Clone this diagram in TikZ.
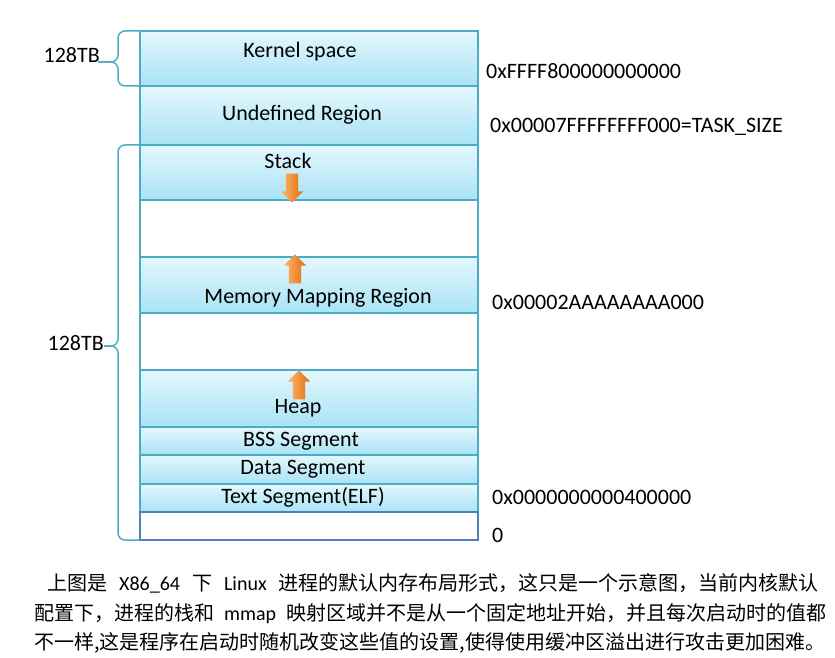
\documentclass[tikz,border=0pt]{standalone}
\usepackage{fontspec}
\setmainfont{Carlito}
\newfontfamily\cjk{Noto Sans CJK SC}
\usetikzlibrary{positioning, shapes.arrows}
\definecolor{segline}{HTML}{4BACC6}
\definecolor{segtop}{HTML}{E4F7FD}
\definecolor{segbot}{HTML}{A8E3F5}
\definecolor{zeroline}{HTML}{4F81BD}
\definecolor{arrlight}{HTML}{FBB76E}
\definecolor{arrdark}{HTML}{E46C0A}
\newcommand{\zh}[1]{{\cjk #1}}

\begin{document}
\begin{tikzpicture}[x=1pt, y=-1pt,
  seg/.style={draw=segline, line width=1.2pt, top color=segtop, bottom color=segbot,
    minimum width=338pt, inner sep=0pt, outer sep=0pt},
  gap/.style={draw=segline, line width=1.2pt, fill=white,
    minimum width=338pt, inner sep=0pt, outer sep=0pt},
  segtext/.style={font=\fontsize{22}{22}\selectfont},
  addr/.style={font=\fontsize{22}{22}\selectfont, anchor=west, inner sep=0pt},
  brace/.style={draw=segline, line width=1.5pt, rounded corners=7pt},
  growarrow/.style={single arrow, draw=none, left color=arrlight, right color=arrdark,
    minimum height=29pt, inner sep=6pt, single arrow head extend=5pt},
  para/.style={font=\fontsize{20}{20}\selectfont, anchor=west, inner sep=0pt}]
  \useasboundingbox (0,0) rectangle (835,658);

  % memory segments, from the top down
  \node[seg, minimum height=55pt, anchor=north west] (kernel) at (140,31) {};
  \node[seg, minimum height=59pt, below=0pt of kernel] (undef) {};
  \node[seg, minimum height=55pt, below=0pt of undef] (stack) {};
  \node[gap, minimum height=57pt, below=0pt of stack] (gapa) {};
  \node[seg, minimum height=56pt, below=0pt of gapa] (mmap) {};
  \node[gap, minimum height=57pt, below=0pt of mmap] (gapb) {};
  \node[seg, minimum height=57pt, below=0pt of gapb] (heap) {};
  \node[seg, minimum height=28pt, below=0pt of heap] (bss) {};
  \node[seg, minimum height=29pt, below=0pt of bss] (data) {};
  \node[seg, minimum height=28pt, below=0pt of data] (text) {};
  \node[gap, draw=zeroline, minimum height=28pt, below=0pt of text] (zero) {};

  % segment names
  \node[segtext] (kerneltext) at (300,52) {Kernel space};
  \node[segtext] (undeftext) at (302,115) {Undefined Region};
  \node[segtext] (stacktext) at (288,161) {Stack};
  \node[segtext] (mmaptext) at (318,298) {Memory Mapping Region};
  \node[segtext] (heaptext) at (298,408) {Heap};
  \node[segtext] (bsstext) at (301,441) {BSS Segment};
  \node[segtext] (datatext) at (303,469) {Data Segment};
  \node[segtext] (texttext) at (303,497) {Text Segment(ELF)};

  % growth directions
  \node[growarrow, shape border rotate=270] (stackgrow) at (292,185) {};
  \node[growarrow, shape border rotate=90] (mmapgrow) at (295,272) {};
  \node[growarrow, shape border rotate=90] (heapgrow) at (299,388) {};

  % sizes
  \draw[brace] (kernel.north west) -| (118,62) -- (98,62);
  \draw[brace] (kernel.south west) -| (118,62) -- (98,62);
  \node[segtext, anchor=east, inner sep=0pt] (kernelsize) at (100,55) {128TB};
  \draw[brace] (stack.north west) -| (118,346) -- (104,346);
  \draw[brace] (zero.south west) -| (118,346) -- (104,346);
  \node[segtext, anchor=east, inner sep=0pt] (usersize) at (104,343) {128TB};

  % addresses
  \node[addr] (kerneladdr) at (486,71) {0xFFFF800000000000};
  \node[addr] (tasksize) at (490,127) {0x00007FFFFFFFF000=TASK\_SIZE};
  \node[addr] (mmapaddr) at (492,302) {0x00002AAAAAAAA000};
  \node[addr] (textaddr) at (492,497) {0x0000000000400000};
  \node[addr] (zeroaddr) at (492,535) {0};

  % caption
  \node[para] (linea) at (47,583) {\zh{上图是}\hspace{12pt}X86\_64\hspace{12pt}\zh{下}\hspace{12pt}Linux\hspace{12pt}\zh{进程的默认内存布局形式，这只是一个示意图，当前内核默认}};
  \node[para] (lineb) at (34,614) {\zh{配置下，进程的栈和}\hspace{10pt}mmap\hspace{10pt}\zh{映射区域并不是从一个固定地址开始，并且每次启动时的值都}};
  \node[para] (linec) at (34,643) {\zh{不一样,这是程序在启动时随机改变这些值的设置,使得使用缓冲区溢出进行攻击更加困难。}};
\end{tikzpicture}
\end{document}
